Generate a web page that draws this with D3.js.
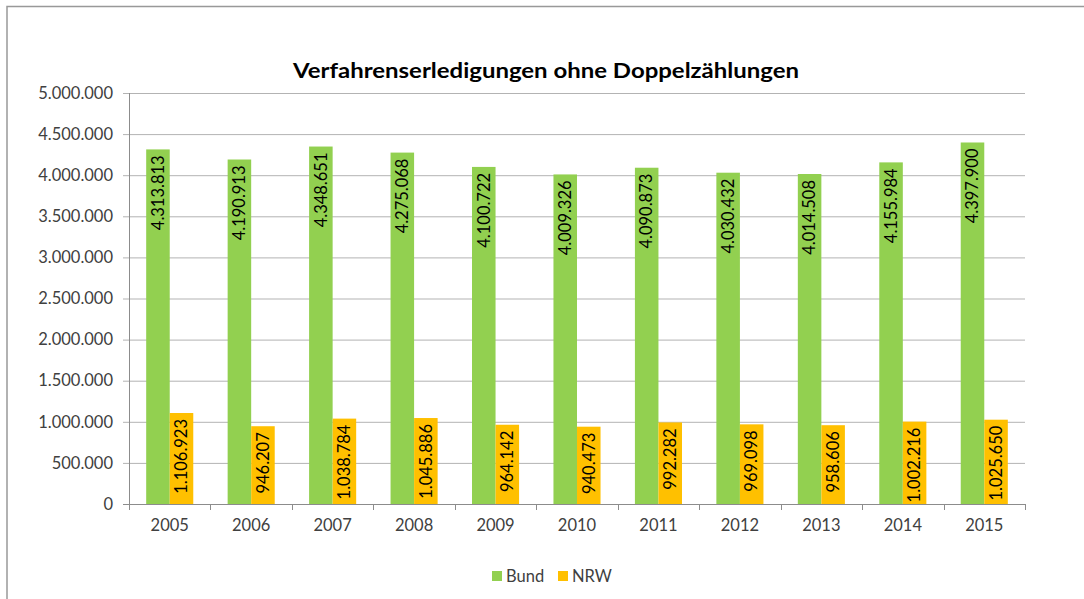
<!DOCTYPE html>
<html><head><meta charset="utf-8">
<script src="https://cdn.jsdelivr.net/npm/d3@7"></script>
<style>body{margin:0;background:#fff}svg{display:block}</style>
</head><body><svg id="c" width="1084" height="599"></svg>
<script>
const years = ["2005","2006","2007","2008","2009","2010","2011","2012","2013","2014","2015"];
const bund = [4313813,4190913,4348651,4275068,4100722,4009326,4090873,4030432,4014508,4155984,4397900];
const nrw = [1106923,946207,1038784,1045886,964142,940473,992282,969098,958606,1002216,1025650];
const seriesNames = ["Bund","NRW"];
const colors = ["#92d050","#ffc000"];
const yTicks = [0,500000,1000000,1500000,2000000,2500000,3000000,3500000,4000000,4500000,5000000];
const title = "Verfahrenserledigungen ohne Doppelzählungen";

const font = "Lato, 'Open Sans', sans-serif";
const fs = 16.5;
const svg = d3.select("#c");
// outer border (top & left)
svg.append("path").attr("d","M7,599 V6.5 H1084").attr("fill","none").attr("stroke","#999").attr("stroke-width",1.5);

const L=129,R=1025,T=93,B=504;
const x = d3.scaleBand().domain(years).range([L,R]).paddingInner(0).paddingOuter(0);
const bw = x.bandwidth()*0.289;
const y = d3.scaleLinear().domain([0,5000000]).range([B,T]);
const fmt = v => d3.format(",")(v).replace(/,/g,".");

// grid
svg.append("g").selectAll("line").data(yTicks.filter(d=>d>0)).join("line")
 .attr("x1",L-6).attr("x2",R).attr("y1",d=>y(d)+0.5).attr("y2",d=>y(d)+0.5)
 .attr("stroke","#b3b3b3").attr("stroke-width",1);
// y labels
svg.append("g").selectAll("text").data(yTicks).join("text")
 .attr("x",113).attr("y",d=>y(d)).attr("dy","0.35em").attr("text-anchor","end")
 .attr("font-family",font).attr("font-size",fs).attr("fill","#404040").text(fmt);
// axis lines
svg.append("line").attr("x1",L+0.5).attr("x2",L+0.5).attr("y1",T).attr("y2",B).attr("stroke","#8c8c8c");
svg.append("line").attr("x1",L-6).attr("x2",R).attr("y1",B+0.5).attr("y2",B+0.5).attr("stroke","#8c8c8c");
// x ticks at boundaries
const bounds = years.map(d=>x(d)).concat([R]);
svg.append("g").selectAll("line").data(bounds).join("line")
 .attr("x1",d=>Math.round(d)+0.5).attr("x2",d=>Math.round(d)+0.5).attr("y1",B).attr("y2",B+6).attr("stroke","#8c8c8c");
// x labels
svg.append("g").selectAll("text").data(years).join("text")
 .attr("x",d=>x(d)+x.bandwidth()/2).attr("y",531).attr("text-anchor","middle")
 .attr("font-family",font).attr("font-size",fs).attr("fill","#404040").text(d=>d);

const series=[bund,nrw];
series.forEach((vals,si)=>{
  const g=svg.append("g");
  const cx = d=>x(d)+x.bandwidth()/2 - bw + si*bw;
  g.selectAll("rect").data(years).join("rect")
   .attr("x",(d)=>cx(d)).attr("width",bw)
   .attr("y",(d,i)=>y(vals[i])).attr("height",(d,i)=>B-y(vals[i]))
   .attr("fill",colors[si]);
  g.selectAll("text").data(years).join("text")
   .attr("transform",(d,i)=>`translate(${cx(d)+bw/2},${y(vals[i])+6}) rotate(-90)`)
   .attr("text-anchor","end").attr("dy","0.35em")
   .attr("font-family",font).attr("font-size",fs).attr("fill","#000")
   .text((d,i)=>fmt(vals[i]));
});

// title
svg.append("text").attr("x",546).attr("y",78).attr("text-anchor","middle")
 .attr("font-family",font).attr("font-weight","bold").attr("font-size",21).attr("fill","#000")
 .attr("textLength",506).attr("lengthAdjust","spacingAndGlyphs").text(title);

// legend
const lg=[{x:492,t:seriesNames[0],c:colors[0]},{x:558,t:seriesNames[1],c:colors[1]}];
lg.forEach(o=>{
  svg.append("rect").attr("x",o.x).attr("y",571).attr("width",10).attr("height",10).attr("fill",o.c);
  svg.append("text").attr("x",o.x+14).attr("y",576).attr("dy","0.35em").attr("font-family",font)
   .attr("font-size",fs).attr("fill","#404040").text(o.t);
});
</script></body></html>
